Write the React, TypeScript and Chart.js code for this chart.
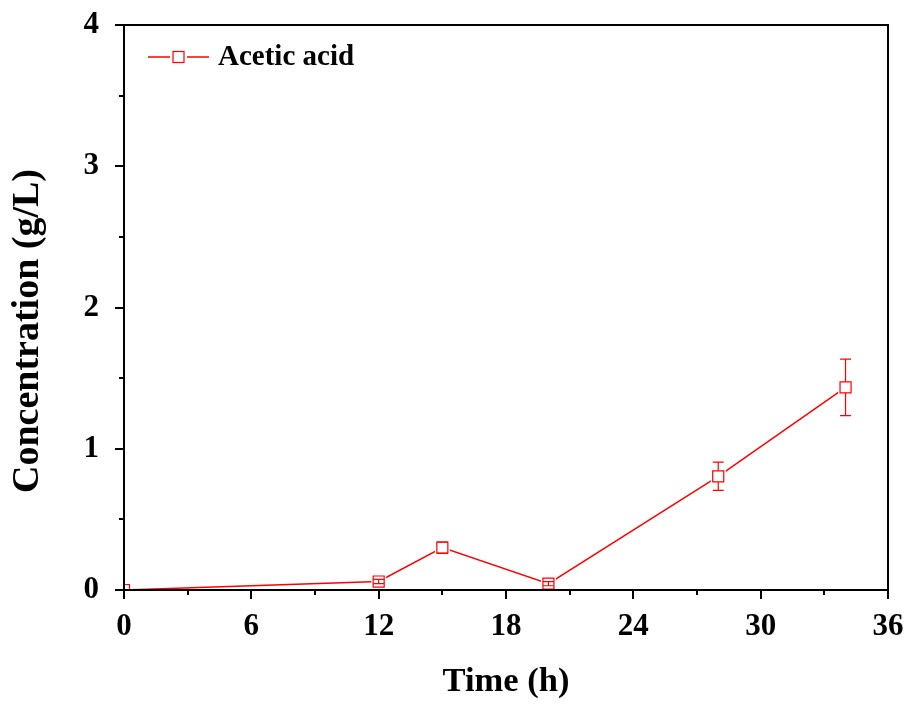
import React, { useEffect, useRef } from "react";
import { Chart, registerables } from "chart.js";

Chart.register(...registerables);

const timeH = [0, 12, 15, 20, 28, 34];
const aceticAcid = [0, 0.06, 0.3, 0.045, 0.805, 1.435];
const aceticErr = [0, 0.015, 0.04, 0.015, 0.1, 0.2];
const xTicks = [0, 6, 12, 18, 24, 30, 36];
const yTicks = [0, 1, 2, 3, 4];
const seriesLabel = "Acetic acid";
const xTitle = "Time (h)";
const yTitle = "Concentration (g/L)";

const RED = "rgb(255,0,0)";
const FONT = "'Liberation Serif', 'Times New Roman', serif";

const framePlugin = {
  id: "frame",
  afterDatasetsDraw(chart: any) {
    const ctx = chart.ctx;
    const xs = chart.scales.x;
    const ys = chart.scales.y;
    ctx.save();
    ctx.strokeStyle = RED;
    ctx.lineWidth = 1.2;
    const cap = 5.5;
    timeH.forEach((t, i) => {
      const e = aceticErr[i];
      if (!e) return;
      const px = xs.getPixelForValue(t);
      const top = ys.getPixelForValue(aceticAcid[i] + e);
      const bot = ys.getPixelForValue(aceticAcid[i] - e);
      const yc = ys.getPixelForValue(aceticAcid[i]);
      const half = 5.5;
      ctx.beginPath();
      if (yc - top > half) {
        ctx.moveTo(px, top);
        ctx.lineTo(px, yc - half);
        ctx.moveTo(px, yc + half);
        ctx.lineTo(px, bot);
      } else {
        ctx.moveTo(px, top);
        ctx.lineTo(px, bot);
      }
      ctx.moveTo(px - cap, top);
      ctx.lineTo(px + cap, top);
      ctx.moveTo(px - cap, bot);
      ctx.lineTo(px + cap, bot);
      ctx.stroke();
    });
    ctx.restore();
  },
  afterDraw(chart: any) {
    const ctx = chart.ctx;
    const a = chart.chartArea;
    const xs = chart.scales.x;
    const ys = chart.scales.y;
    ctx.save();
    ctx.strokeStyle = "#000";
    ctx.lineWidth = 2;
    ctx.strokeRect(a.left, a.top, a.right - a.left, a.bottom - a.top);
    ctx.beginPath();
    for (let v = 0; v <= 36; v += 3) {
      const px = Math.round(xs.getPixelForValue(v));
      const len = v % 6 === 0 ? 9 : 5;
      ctx.moveTo(px, a.bottom);
      ctx.lineTo(px, a.bottom + len);
    }
    for (let v = 0; v <= 4; v += 0.5) {
      const py = Math.round(ys.getPixelForValue(v));
      const len = v % 1 === 0 ? 9 : 5;
      ctx.moveTo(a.left, py);
      ctx.lineTo(a.left - len, py);
    }
    ctx.stroke();

    // y-axis title
    ctx.fillStyle = "#000";
    ctx.save();
    ctx.translate(28, 331);
    ctx.rotate(-Math.PI / 2);
    ctx.font = `bold 38px ${FONT}`;
    ctx.textAlign = "center";
    ctx.textBaseline = "middle";
    ctx.fillText(yTitle, 0, 0);
    ctx.restore();

    // legend
    const ly = 57;
    ctx.strokeStyle = RED;
    ctx.lineWidth = 1.5;
    ctx.beginPath();
    ctx.moveTo(148, ly);
    ctx.lineTo(170, ly);
    ctx.moveTo(187, ly);
    ctx.lineTo(209, ly);
    ctx.stroke();
    ctx.lineWidth = 1.2;
    ctx.strokeRect(173, ly - 5.5, 11, 11);
    ctx.font = `bold 29px ${FONT}`;
    ctx.textBaseline = "middle";
    ctx.textAlign = "left";
    ctx.fillText(seriesLabel, 218, ly + 1);
    ctx.restore();
  },
};

const zeroPad = (s: any) => {
  s.paddingLeft = 0;
  s.paddingRight = 0;
  s.paddingTop = 0;
  s.paddingBottom = 0;
};

export default function App() {
  const ref = useRef<HTMLCanvasElement>(null);
  useEffect(() => {
    const pts = timeH.map((t, i) => ({ x: t, y: aceticAcid[i] }));
    const chart = new Chart(ref.current as HTMLCanvasElement, {
      type: "line",
      data: {
        datasets: [
          {
            label: seriesLabel,
            data: pts,
            showLine: false,
            pointStyle: "rect",
            pointRadius: 7.8,
            pointBorderWidth: 1.2,
            pointBorderColor: RED,
            pointBackgroundColor: "#fff",
            order: 1,
          },
          {
            label: "gap",
            data: pts,
            showLine: false,
            pointStyle: "rect",
            pointRadius: 10.5,
            pointBorderWidth: 0,
            pointBorderColor: "#fff",
            pointBackgroundColor: "#fff",
            order: 2,
          },
          {
            label: "line",
            data: pts,
            borderColor: RED,
            borderWidth: 1.5,
            pointRadius: 0,
            tension: 0,
            order: 3,
          },
        ],
      } as any,
      options: {
        responsive: false,
        animation: false,
        layout: { padding: { left: 0, right: 22, top: 25, bottom: 0 } },
        plugins: { legend: { display: false }, tooltip: { enabled: false } },
        scales: {
          x: {
            type: "linear",
            min: 0,
            max: 36,
            afterFit: (s: any) => {
              s.height = 114;
              zeroPad(s);
            },
            afterBuildTicks: (s: any) => {
              s.ticks = xTicks.map((v) => ({ value: v }));
            },
            grid: { display: false },
            border: { display: false },
            ticks: {
              color: "#000",
              padding: 10,
              maxRotation: 0,
              font: { family: FONT, size: 31, weight: "bold" },
            },
            title: {
              display: true,
              text: xTitle,
              color: "#000",
              padding: { top: 0, bottom: 1 },
              font: { family: FONT, size: 34.5, weight: "bold" },
            },
          },
          y: {
            type: "linear",
            min: 0,
            max: 4,
            afterFit: (s: any) => {
              s.width = 124;
              zeroPad(s);
            },
            afterBuildTicks: (s: any) => {
              s.ticks = yTicks.map((v) => ({ value: v }));
            },
            grid: { display: false },
            border: { display: false },
            ticks: {
              color: "#000",
              padding: 17,
              font: { family: FONT, size: 31, weight: "bold" },
            },
            title: { display: false },
          },
        },
      } as any,
      plugins: [framePlugin],
    });
    return () => chart.destroy();
  }, []);
  return (
    <div style={{ position: "absolute", left: 0, top: 0, width: 910, height: 704, background: "#fff" }}>
      <canvas ref={ref} width={910} height={704} style={{ width: 910, height: 704 }} />
    </div>
  );
}
